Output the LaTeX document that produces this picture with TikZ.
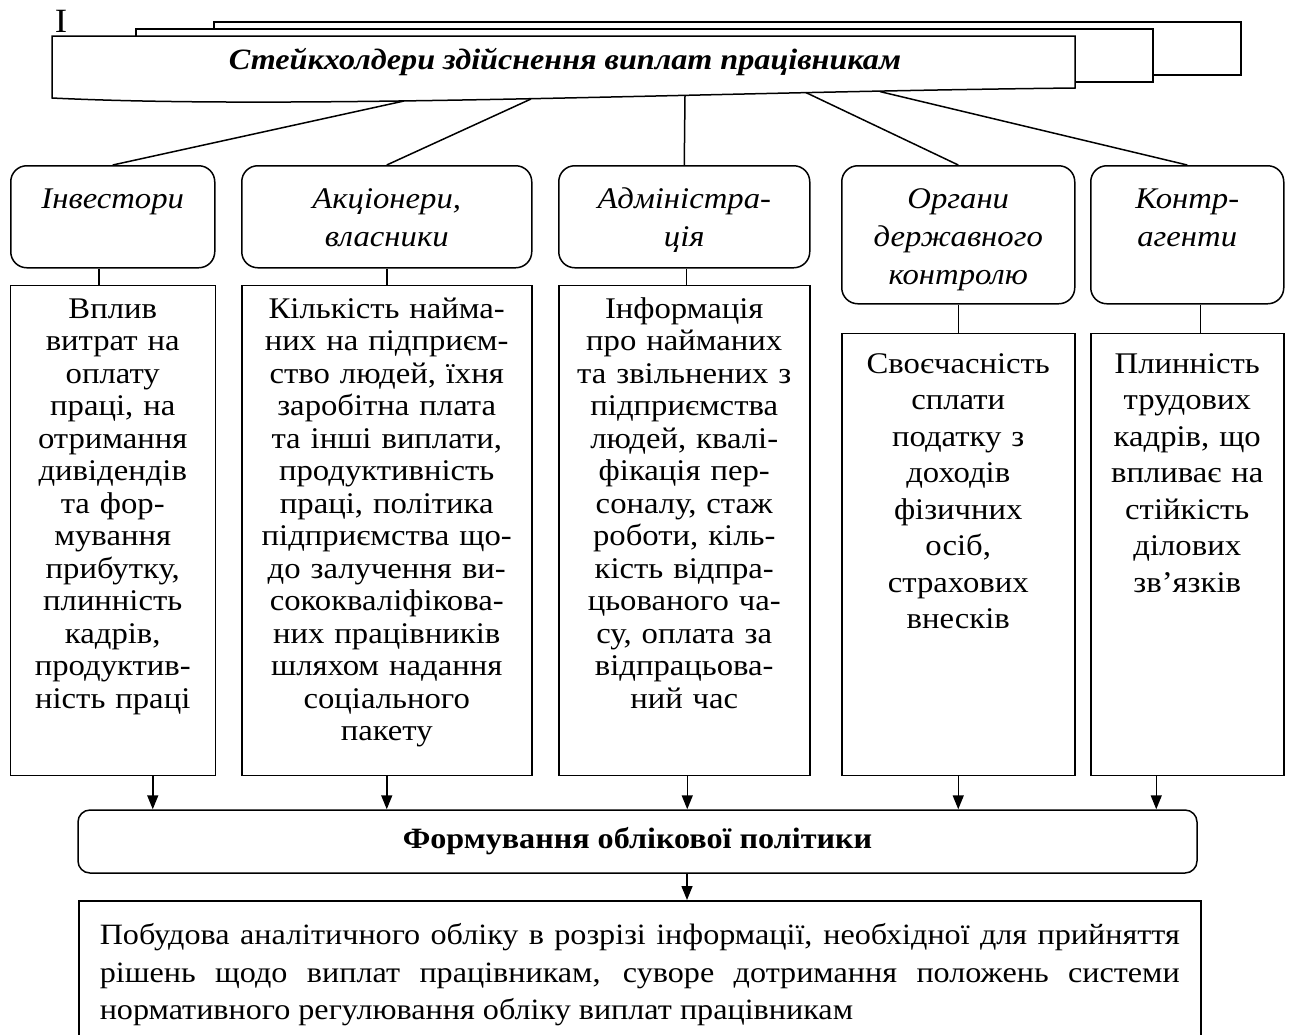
\documentclass[tikz,border=0pt]{standalone}
\usepackage{fontspec}
\setmainfont{Liberation Serif}[FakeStretch=1.09]
\usetikzlibrary{positioning,arrows.meta}

\tikzset{
  stake/.style={draw, rounded corners=16pt, align=center, inner sep=0pt,
    font=\fontsize{30}{38}\selectfont\itshape, text height=43pt},
  infobox/.style={draw, align=center, inner sep=0pt,
    font=\fontsize{30}{32.5}\selectfont},
  infoboxwide/.style={infobox, font=\fontsize{30}{36.5}\selectfont},
  arr/.style={-{Triangle[length=14pt,width=11pt]}},
}

\begin{document}
\begin{tikzpicture}[x=1pt, y=-1pt, line width=1.5pt]
    \clip (0,0) rectangle (1289,1034);

    % Banner
    \draw[fill=white] (214,22) rectangle (1241,75);
    \draw[fill=white] (136,29) rectangle (1153,82);
    \draw[fill=white] (52,36) -- (1075,36) -- (1075,88)
        .. controls (700,92) and (300,110) .. (52,98) -- cycle;
    \node (mark) at (61,21) {\fontsize{34}{40}\selectfont I};
    \node (title) at (565,62) {\fontsize{29.5}{34}\selectfont\bfseries\itshape
        Стейкхолдери здійснення виплат працівникам};
    \coordinate (b1) at (404,101);
    \coordinate (b2) at (531,99);
    \coordinate (b3) at (685,95.5);
    \coordinate (b4) at (806,92.6);
    \coordinate (b5) at (880,91.6);

    % Stakeholders
    \node (inv) [stake, anchor=north west, text width=204pt, text depth=59pt] at (10,165) {Інвестори};
    \node (aks) [stake, anchor=north west, text width=290pt, text depth=59pt] at (241,165) {Акціонери,\\ власники};
    \node (adm) [stake, anchor=north west, text width=251pt, text depth=59pt] at (558,165) {Адміністра-\\ ція};
    \node (org) [stake, anchor=north west, text width=233pt, text depth=95pt] at (841,165) {Органи\\ державного\\ контролю};
    \node (kon) [stake, anchor=north west, text width=193pt, text depth=95pt] at (1090,165) {Контр-\\ агенти};

    % Details
    \node (d1) [infobox, below=16pt of inv, text width=205pt, text height=33pt, text depth=457pt]
        {Вплив\\ витрат на\\ оплату\\ праці, на\\ отримання\\ дивідендів\\ та фор-\\ мування\\
         прибутку,\\ плинність\\ кадрів,\\ продуктив-\\ ність праці};
    \node (d2) [infobox, below=16pt of aks, text width=290pt, text height=33pt, text depth=457pt]
        {Кількість найма-\\ них на підприєм-\\ ство людей, їхня\\ заробітна плата\\ та інші виплати,\\
         продуктивність\\ праці, політика\\ підприємства що-\\ до залучення ви-\\ сококваліфікова-\\
         них працівників\\ шляхом надання\\ соціального\\ пакету};
    \node (d3) [infobox, below=16pt of adm, text width=251pt, text height=33pt, text depth=457pt]
        {Інформація\\ про найманих\\ та звільнених з\\ підприємства\\ людей, квалі-\\ фікація пер-\\
         соналу, стаж\\ роботи, кіль-\\ кість відпра-\\ цьованого ча-\\ су, оплата за\\ відпрацьова-\\ ний час};
    \node (d4) [infoboxwide, below=28pt of org, text width=233pt, text height=40pt, text depth=402pt]
        {Своєчасність\\ сплати\\ податку з\\ доходів\\ фізичних\\ осіб,\\ страхових\\ внесків};
    \node (d5) [infoboxwide, below=28pt of kon, text width=193pt, text height=40pt, text depth=402pt]
        {Плинність\\ трудових\\ кадрів, що\\ впливає на\\ стійкість\\ ділових\\ зв’язків};

    % Policy and result
    \node (form) [draw, rounded corners=12pt, minimum width=1119pt, minimum height=63pt,
        font=\fontsize{29.5}{32}\selectfont\bfseries] at (637.5,841.5) {Формування облікової політики};
    \node (res) [draw, anchor=north west, align=justify, text width=1080pt, inner xsep=21pt, inner ysep=0pt,
        text height=44pt, text depth=150pt, font=\fontsize{29.5}{37.5}\selectfont] at (78,900)
        {Побудова аналітичного обліку в розрізі інформації, необхідної для прийняття\linebreak
         рішень щодо виплат працівникам, суворе дотримання положень системи\linebreak
         нормативного регулювання обліку виплат працівникам};

    % Lines from banner
    \draw (b1) -- (inv.north);
    \draw (b2) -- (aks.north);
    \draw (b3) -- (adm.north);
    \draw (b4) -- (org.north);
    \draw (b5) -- (kon.north);

    % Stakeholder to details
    \draw ([xshift=-14pt]inv.south) -- ([xshift=-14pt]inv.south |- d1.north);
    \draw (aks) -- (d2);
    \draw ([xshift=2pt]adm.south) -- ([xshift=2pt]adm.south |- d3.north);
    \draw (org) -- (d4);
    \draw ([xshift=13pt]kon.south) -- ([xshift=13pt]kon.south |- d5.north);

    % Arrows
    \draw[arr] ([xshift=40pt]d1.south) -- ([xshift=40pt]d1.south |- form.north);
    \draw[arr] (d2.south) -- (d2.south |- form.north);
    \draw[arr] ([xshift=3pt]d3.south) -- ([xshift=3pt]d3.south |- form.north);
    \draw[arr] (d4.south) -- (d4.south |- form.north);
    \draw[arr] ([xshift=-31pt]d5.south) -- ([xshift=-31pt]d5.south |- form.north);
    \draw[arr] ([xshift=49.5pt]form.south) -- ([xshift=49.5pt]form.south |- res.north);
\end{tikzpicture}
\end{document}
